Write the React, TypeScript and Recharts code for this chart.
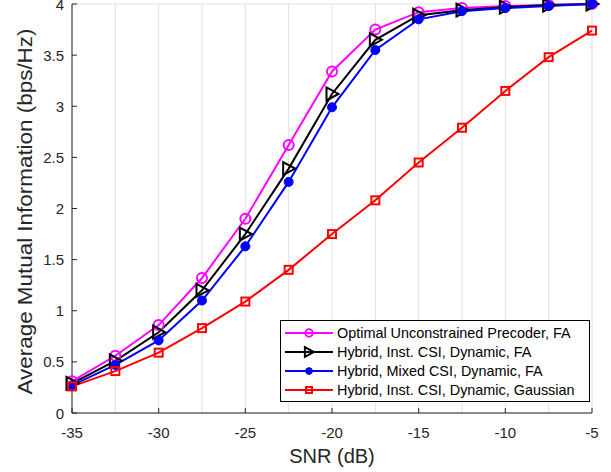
import React from 'react';
import { LineChart, Line, XAxis, YAxis, CartesianGrid } from 'recharts';

const snr = [-35, -32.5, -30, -27.5, -25, -22.5, -20, -17.5, -15, -12.5, -10, -7.5, -5];
const optimalFA = [0.31, 0.56, 0.86, 1.32, 1.9, 2.62, 3.34, 3.75, 3.92, 3.96, 3.98, 3.99, 4.0];
const hybridInstFA = [0.29, 0.51, 0.79, 1.2, 1.75, 2.39, 3.12, 3.65, 3.89, 3.94, 3.97, 3.99, 4.0];
const hybridMixedFA = [0.27, 0.47, 0.71, 1.1, 1.63, 2.26, 2.99, 3.55, 3.85, 3.93, 3.96, 3.98, 4.0];
const hybridInstGauss = [0.26, 0.41, 0.59, 0.83, 1.09, 1.4, 1.75, 2.08, 2.45, 2.79, 3.15, 3.48, 3.74];

const xTicks = [-35, -30, -25, -20, -15, -10, -5];
const yTicks = [0, 0.5, 1, 1.5, 2, 2.5, 3, 3.5, 4];

const seriesNames = [
  'Optimal Unconstrained Precoder, FA',
  'Hybrid, Inst. CSI, Dynamic, FA',
  'Hybrid, Mixed CSI, Dynamic, FA',
  'Hybrid, Inst. CSI, Dynamic, Gaussian',
];

const data = snr.map((s, i) => ({
  snr: s,
  opt: optimalFA[i],
  inst: hybridInstFA[i],
  mixed: hybridMixedFA[i],
  gauss: hybridInstGauss[i],
}));

const FONT = '"Liberation Sans", Arial, Helvetica, sans-serif';
const AXIS = '#262626';

const Circle = (color: string, k = 1) => (p: any) =>
  p.cx == null ? null : (
    <circle key={p.index} cx={p.cx} cy={p.cy} r={5 * k} fill="none" stroke={color} strokeWidth={2} />
  );
const Tri = (color: string, k = 1) => (p: any) =>
  p.cx == null ? null : (
    <path
      key={p.index}
      d={`M${p.cx - 5.5 * k},${p.cy - 6.5 * k} L${p.cx + 6.5 * k},${p.cy} L${p.cx - 5.5 * k},${p.cy + 6.5 * k} Z`}
      fill="none"
      stroke={color}
      strokeWidth={2}
    />
  );
const Dot = (color: string, k = 1) => (p: any) =>
  p.cx == null ? null : <circle key={p.index} cx={p.cx} cy={p.cy} r={4.5 * k} fill={color} stroke={color} />;
const Sq = (color: string, k = 1) => (p: any) =>
  p.cx == null ? null : (
    <rect
      key={p.index}
      x={p.cx - 4 * k}
      y={p.cy - 4 * k}
      width={8 * k}
      height={8 * k}
      fill="none"
      stroke={color}
      strokeWidth={2}
    />
  );

const series = [
  { key: 'opt', color: '#ff00ff', make: Circle },
  { key: 'inst', color: '#000000', make: Tri },
  { key: 'mixed', color: '#0000ff', make: Dot },
  { key: 'gauss', color: '#ff0000', make: Sq },
];

const BottomTick = (p: any) => (
  <g>
    <line x1={p.x} y1={p.y} x2={p.x} y2={p.y - 5} stroke={AXIS} strokeWidth={1} />
    <text x={p.x} y={p.y + 25} textAnchor="middle" fontSize={15} fill={AXIS} fontFamily={FONT}>
      {p.payload.value}
    </text>
  </g>
);
const TopTick = (p: any) => <line x1={p.x} y1={p.y} x2={p.x} y2={p.y + 5} stroke={AXIS} strokeWidth={1} />;
const LeftTick = (p: any) => (
  <g>
    <line x1={p.x} y1={p.y} x2={p.x + 5} y2={p.y} stroke={AXIS} strokeWidth={1} />
    <text x={p.x - 8} y={p.y + 5.5} textAnchor="end" fontSize={15} fill={AXIS} fontFamily={FONT}>
      {p.payload.value}
    </text>
  </g>
);
const RightTick = (p: any) => <line x1={p.x} y1={p.y} x2={p.x - 5} y2={p.y} stroke={AXIS} strokeWidth={1} />;

const LegendBox = () => (
  <svg width={310} height={82} style={{ position: 'absolute', left: 280, top: 320 }}>
    <rect x={0.5} y={0.5} width={309} height={81} fill="#ffffff" stroke="#000000" strokeWidth={1} />
    {series.map((s, i) => {
      const cy = 13 + i * 19;
      const cx = 29;
      return (
        <g key={s.key}>
          <line x1={5} y1={cy} x2={53} y2={cy} stroke={s.color} strokeWidth={2} />
          {s.make(s.color, 0.75)({ cx, cy, index: i })}
          <text x={57} y={cy + 5} fontSize={14.4} fill="#000000" fontFamily={FONT}>
            {seriesNames[i]}
          </text>
        </g>
      );
    })}
  </svg>
);

export default function App() {
  return (
    <div style={{ position: 'absolute', left: 0, top: 0, width: 611, height: 472, background: '#ffffff' }}>
      <LineChart width={611} height={472} data={data} margin={{ top: 4, right: 19, left: 0, bottom: 0 }}>
        <CartesianGrid stroke="#e0e0e0" strokeWidth={1} />
        <XAxis
          xAxisId="b"
          dataKey="snr"
          type="number"
          domain={[-35, -5]}
          ticks={xTicks}
          height={59}
          tickSize={0}
          tickMargin={0}
          tick={<BottomTick />}
          stroke={AXIS}
          interval={0}
          label={(props: any) => {
            const vb = props.viewBox;
            return (
              <text x={vb.x + vb.width / 2} y={vb.y + 50} textAnchor="middle" fontSize={20} fill={AXIS} fontFamily={FONT}>
                SNR (dB)
              </text>
            );
          }}
        />
        <XAxis
          xAxisId="t"
          orientation="top"
          dataKey="snr"
          type="number"
          domain={[-35, -5]}
          ticks={xTicks}
          height={0}
          tickSize={0}
          tickMargin={0}
          tick={<TopTick />}
          stroke={AXIS}
          interval={0}
        />
        <YAxis
          yAxisId="l"
          type="number"
          domain={[0, 4]}
          ticks={yTicks}
          width={72}
          tickSize={0}
          tickMargin={0}
          tick={<LeftTick />}
          stroke={AXIS}
          interval={0}
          label={(props: any) => {
            const vb = props.viewBox;
            const cx = 25;
            const cy = vb.y + vb.height / 2 + 3;
            return (
              <text
                x={cx}
                y={cy}
                transform={`rotate(-90 ${cx} ${cy})`}
                textAnchor="middle"
                dominantBaseline="central"
                fontSize={20}
                fill={AXIS}
                fontFamily={FONT}
                textLength={366}
                lengthAdjust="spacingAndGlyphs"
              >
                Average Mutual Information (bps/Hz)
              </text>
            );
          }}
        />
        <YAxis
          yAxisId="r"
          orientation="right"
          type="number"
          domain={[0, 4]}
          ticks={yTicks}
          width={0}
          tickSize={0}
          tickMargin={0}
          tick={<RightTick />}
          stroke={AXIS}
          interval={0}
        />
        {series.map((s) => (
          <Line
            key={s.key}
            xAxisId="b"
            yAxisId="l"
            type="linear"
            dataKey={s.key}
            stroke={s.color}
            strokeWidth={2}
            dot={s.make(s.color)}
            activeDot={false}
            isAnimationActive={false}
          />
        ))}
      </LineChart>
      <LegendBox />
    </div>
  );
}
